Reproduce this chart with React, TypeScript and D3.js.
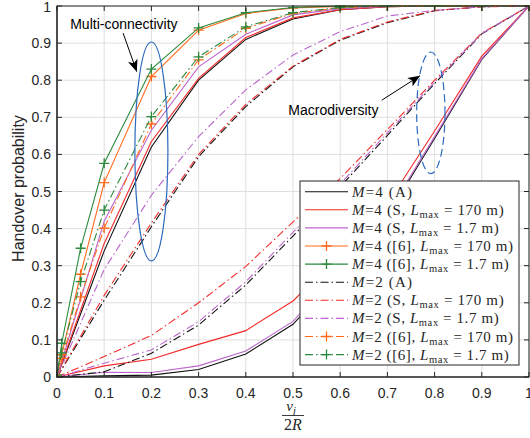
import React from "react";
import { scaleLinear, line } from "d3";

// x positions: curves with markers have extra points near 0
const xPlain = [0, 0.1, 0.2, 0.3, 0.4, 0.5, 0.6, 0.7, 0.8, 0.9, 1];
const xMarked = [0, 0.01, 0.05, 0.1, 0.2, 0.3, 0.4, 0.5, 0.6, 0.7, 0.8, 0.9, 1];
const xTicks = [0, 0.1, 0.2, 0.3, 0.4, 0.5, 0.6, 0.7, 0.8, 0.9, 1];
const yTicks = [0, 0.1, 0.2, 0.3, 0.4, 0.5, 0.6, 0.7, 0.8, 0.9, 1];

// multi-connectivity (upper) and macrodiversity (lower) branches
const m4AMulti = [0, 0.34, 0.62, 0.8, 0.91, 0.965, 0.99, 0.998, 1, 1, 1];
const m4AMacro = [0, 0.003, 0.005, 0.02, 0.062, 0.142, 0.28, 0.434, 0.643, 0.856, 1];
const m4S170Multi = [0, 0.36, 0.635, 0.805, 0.915, 0.968, 0.99, 0.998, 1, 1, 1];
const m4S170Macro = [0, 0.03, 0.048, 0.088, 0.125, 0.205, 0.33, 0.467, 0.663, 0.865, 1];
const m4S17Multi = [0, 0.42, 0.665, 0.836, 0.924, 0.976, 0.993, 0.999, 1, 1, 1];
const m4S17Macro = [0, 0.013, 0.012, 0.03, 0.07, 0.15, 0.29, 0.44, 0.648, 0.858, 1];
const m4Ref170 = [0.005, 0.06, 0.277, 0.524, 0.81, 0.935, 0.98, 0.995, 0.999, 1, 1, 1, 1];
const m4Ref17 = [0.005, 0.091, 0.347, 0.576, 0.83, 0.941, 0.982, 0.996, 1, 1, 1, 1, 1];
const m2AMulti = [0, 0.207, 0.405, 0.594, 0.729, 0.836, 0.908, 0.955, 0.987, 0.998, 1];
const m2AMacro = [0, 0.014, 0.064, 0.14, 0.248, 0.38, 0.513, 0.651, 0.791, 0.925, 1];
const m2S170Multi = [0, 0.22, 0.415, 0.6, 0.735, 0.838, 0.91, 0.957, 0.988, 0.998, 1];
const m2S170Macro = [0, 0.055, 0.112, 0.2, 0.298, 0.418, 0.535, 0.667, 0.8, 0.927, 1];
const m2S17Multi = [0, 0.29, 0.49, 0.648, 0.774, 0.868, 0.931, 0.973, 0.988, 0.998, 1];
const m2S17Macro = [0, 0.037, 0.073, 0.149, 0.257, 0.39, 0.52, 0.658, 0.795, 0.926, 1];
const m2Ref170 = [0.005, 0.05, 0.216, 0.401, 0.682, 0.855, 0.94, 0.98, 0.995, 1, 1, 1, 1];
const m2Ref17 = [0.005, 0.065, 0.257, 0.45, 0.702, 0.863, 0.944, 0.982, 0.996, 1, 1, 1, 1];

const BLACK = "#111111",
  RED = "#f42a2a",
  PURPLE = "#bb66cc",
  ORANGE = "#ff6a1a",
  GREEN = "#2b8a3e";
const DASHDOT = "8,3,1.5,3";

const series = [
  { m: "4", kind: "A", color: BLACK, dash: null, marker: false, xs: xPlain, ys: [m4AMulti, m4AMacro] },
  { m: "4", kind: "S", L: "170", color: RED, dash: null, marker: false, xs: xPlain, ys: [m4S170Multi, m4S170Macro] },
  { m: "4", kind: "S", L: "1.7", color: PURPLE, dash: null, marker: false, xs: xPlain, ys: [m4S17Multi, m4S17Macro] },
  { m: "4", kind: "[6]", L: "170", color: ORANGE, dash: null, marker: true, xs: xMarked, ys: [m4Ref170] },
  { m: "4", kind: "[6]", L: "1.7", color: GREEN, dash: null, marker: true, xs: xMarked, ys: [m4Ref17] },
  { m: "2", kind: "A", color: BLACK, dash: DASHDOT, marker: false, xs: xPlain, ys: [m2AMulti, m2AMacro] },
  { m: "2", kind: "S", L: "170", color: RED, dash: DASHDOT, marker: false, xs: xPlain, ys: [m2S170Multi, m2S170Macro] },
  { m: "2", kind: "S", L: "1.7", color: PURPLE, dash: DASHDOT, marker: false, xs: xPlain, ys: [m2S17Multi, m2S17Macro] },
  { m: "2", kind: "[6]", L: "170", color: ORANGE, dash: DASHDOT, marker: true, xs: xMarked, ys: [m2Ref170] },
  { m: "2", kind: "[6]", L: "1.7", color: GREEN, dash: DASHDOT, marker: true, xs: xMarked, ys: [m2Ref17] },
];

// rendered width of each legend label in the reference
const labelWidth = (s) =>
  s.kind === "A" ? 60 : s.kind === "S" ? (s.L === "170" ? 151.7 : 146.7) : s.L === "170" ? 161 : 156.7;

const plus = "M-5,0H5M0,-5V5";

function LegendLabel({ s }) {
  return (
    <>
      <tspan fontStyle="italic">M</tspan>
      <tspan>{`=${s.m} (`}</tspan>
      {s.kind === "A" ? (
        <tspan>A)</tspan>
      ) : (
        <>
          <tspan>{s.kind}, </tspan>
          <tspan fontStyle="italic">L</tspan>
          <tspan fontSize="10.5" dy="3">max</tspan>
          <tspan dy="-3">{` = ${s.L} m)`}</tspan>
        </>
      )}
    </>
  );
}

export default function App() {
  const width = 530,
    height = 438,
    margin = { top: 6, right: 1, bottom: 61, left: 57 },
    innerWidth = width - margin.left - margin.right,
    innerHeight = height - margin.top - margin.bottom,
    x = scaleLinear().domain([0, 1]).range([0, innerWidth]),
    y = scaleLinear().domain([0, 1]).range([innerHeight, 0]),
    tickLen = 5,
    axisColor = "#262626",
    gridColor = "#dfdfdf",
    sans = "'Liberation Sans', Arial, Helvetica, sans-serif",
    serif = "'Liberation Serif', 'Times New Roman', serif",
    legend = { x: 300, y: 181, w: 219, h: 184, row: 18.1 };

  const path = (xs, ys) =>
    line()
      .x((d) => x(d[0]))
      .y((d) => y(d[1]))(xs.map((v, i) => [v, ys[i]]));

  return (
    <svg
      width={width}
      height={height}
      style={{ position: "absolute", left: 0, top: 0, background: "#fff" }}
    >
      <defs>
        <clipPath id="plot">
          <rect x={-1} y={-1} width={innerWidth + 2} height={innerHeight + 2} />
        </clipPath>
        <marker id="arrow" viewBox="0 0 12 10" refX="12" refY="5" markerWidth="12" markerHeight="10" markerUnits="userSpaceOnUse" orient="auto">
          <path d="M0,0L12,5L0,10L3,5Z" fill="#000" />
        </marker>
      </defs>
      <g transform={`translate(${margin.left},${margin.top})`}>
        {/* grid */}
        {xTicks.map((t) => (
          <line key={"gx" + t} x1={x(t)} x2={x(t)} y1={0} y2={innerHeight} stroke={gridColor} />
        ))}
        {yTicks.map((t) => (
          <line key={"gy" + t} x1={0} x2={innerWidth} y1={y(t)} y2={y(t)} stroke={gridColor} />
        ))}

        {/* curves */}
        <g clipPath="url(#plot)">
          {series.map((s, i) => (
            <g key={i}>
              {s.ys.map((ys, j) => (
                <path
                  key={j}
                  d={path(s.xs, ys)}
                  fill="none"
                  stroke={s.color}
                  strokeWidth={1.1}
                  strokeDasharray={s.dash || undefined}
                />
              ))}
              {s.marker &&
                s.xs.map((v, k) => (
                  <path
                    key={"m" + k}
                    d={plus}
                    transform={`translate(${x(v)},${y(s.ys[0][k])})`}
                    stroke={s.color}
                    strokeWidth={1.3}
                  />
                ))}
            </g>
          ))}
        </g>

        {/* axes box and ticks */}
        <rect x={0} y={0} width={innerWidth} height={innerHeight} fill="none" stroke={axisColor} strokeWidth={1} />
        <line x1={0} x2={0} y1={0} y2={innerHeight} stroke={axisColor} strokeWidth={1.2} />
        <line x1={0} x2={innerWidth} y1={innerHeight} y2={innerHeight} stroke={axisColor} strokeWidth={1.2} />
        {xTicks.map((t) => (
          <g key={"tx" + t} transform={`translate(${x(t)},0)`}>
            <line y1={innerHeight} y2={innerHeight - tickLen} stroke={axisColor} />
            <line y1={0} y2={tickLen} stroke={axisColor} />
            <text y={innerHeight + 21} textAnchor="middle" fontFamily={sans} fontSize={14} fill="#262626">
              {t}
            </text>
          </g>
        ))}
        {yTicks.map((t) => (
          <g key={"ty" + t} transform={`translate(0,${y(t)})`}>
            <line x1={0} x2={tickLen} stroke={axisColor} />
            <line x1={innerWidth} x2={innerWidth - tickLen} stroke={axisColor} />
            <text x={-6} dy={t === 1 ? ".46em" : ".36em"} textAnchor="end" fontFamily={sans} fontSize={14} fill="#262626">
              {t}
            </text>
          </g>
        ))}

        {/* x axis label: nu_j / 2R */}
        <g transform={`translate(${x(0.5)},${innerHeight})`} fontFamily={serif} fill="#262626">
          <text x={-2} y={34} textAnchor="middle" fontStyle="italic" fontSize={15}>
            ν<tspan fontSize={10.5} dy={3}>j</tspan>
          </text>
          <line x1={-11} x2={11} y1={38.5} y2={38.5} stroke="#262626" strokeWidth={0.9} />
          <text y={53} textAnchor="middle" fontSize={16}>
            2<tspan fontStyle="italic">R</tspan>
          </text>
        </g>

        {/* annotations */}
        <ellipse
          cx={x(0.2)}
          cy={y(0.608)}
          rx={x(0.035)}
          ry={innerHeight - y(0.295)}
          fill="none"
          stroke="#2c6bbf"
          strokeWidth={1.2}
        />
        <ellipse
          cx={x(0.792)}
          cy={y(0.712)}
          rx={x(0.03)}
          ry={innerHeight - y(0.164)}
          fill="none"
          stroke="#2c6bbf"
          strokeWidth={1.2}
          strokeDasharray="8,4"
        />
        <text x={x(0.028)} y={y(0.937)} fontFamily={sans} fontSize={14} fill="#000">
          Multi-connectivity
        </text>
        <line x1={x(0.14)} y1={y(0.927)} x2={x(0.169)} y2={y(0.823)} stroke="#000" strokeWidth={1} markerEnd="url(#arrow)" />
        <text x={x(0.49)} y={y(0.706)} fontFamily={sans} fontSize={14} fill="#000">
          Macrodiversity
        </text>
        <line x1={x(0.688)} y1={y(0.746)} x2={x(0.769)} y2={y(0.812)} stroke="#000" strokeWidth={1} markerEnd="url(#arrow)" />
      </g>

      {/* y axis label */}
      <text
        transform={`translate(23.5,${margin.top + innerHeight / 2 - 3}) rotate(-90)`}
        textAnchor="middle"
        fontFamily={sans}
        fontSize={16}
        fill="#262626"
      >
        Handover probability
      </text>

      {/* legend */}
      <g transform={`translate(${legend.x},${legend.y})`}>
        <rect width={legend.w} height={legend.h} fill="#fff" stroke="#262626" strokeWidth={1} />
        {series.map((s, i) => {
          const cy = 10.7 + i * legend.row;
          return (
            <g key={i}>
              <line x1={5} x2={48} y1={cy} y2={cy} stroke={s.color} strokeWidth={1.1} strokeDasharray={s.dash || undefined} />
              {s.marker && <path d={plus} transform={`translate(26.5,${cy})`} stroke={s.color} strokeWidth={1.3} />}
              <text
                x={52}
                y={cy + 5}
                fontFamily={serif}
                fontSize={15}
                fill="#262626"
                textLength={labelWidth(s)}
                lengthAdjust="spacing"
              >
                <LegendLabel s={s} />
              </text>
            </g>
          );
        })}
      </g>
    </svg>
  );
}
